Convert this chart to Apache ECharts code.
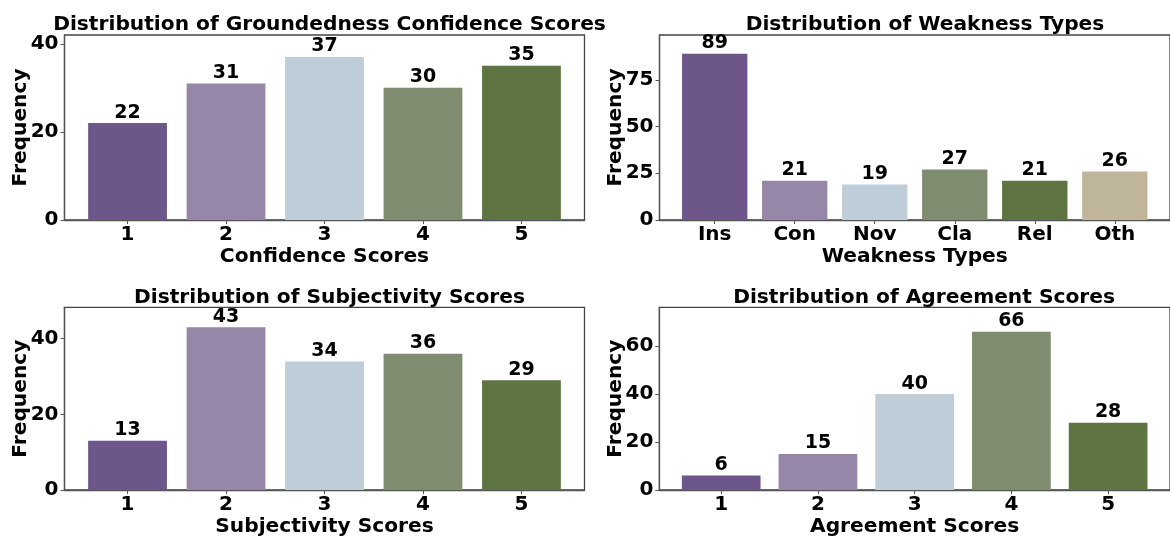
<!DOCTYPE html>
<html>
<head>
<meta charset="utf-8">
<script src="https://cdn.jsdelivr.net/npm/echarts@6/dist/echarts.min.js"></script>
<style>
html,body{margin:0;padding:0;background:#fff;}
#c{width:1170px;height:538px;}
</style>
</head>
<body>
<div id="c"></div>
<script>
// ---- data ----
const confCats = ['1','2','3','4','5'];
const confVals = [22,31,37,30,35];
const weakCats = ['Ins','Con','Nov','Cla','Rel','Oth'];
const weakVals = [89,21,19,27,21,26];
const subjCats = ['1','2','3','4','5'];
const subjVals = [13,43,34,36,29];
const agreeCats = ['1','2','3','4','5'];
const agreeVals = [6,15,40,66,28];
const confTicks = [0,20,40];
const weakTicks = [0,25,50,75];
const subjTicks = [0,20,40];
const agreeTicks = [0,20,40,60];
const titles = ['Distribution of Groundedness Confidence Scores','Distribution of Weakness Types','Distribution of Subjectivity Scores','Distribution of Agreement Scores'];
const xNames = ['Confidence Scores','Weakness Types','Subjectivity Scores','Agreement Scores'];
const yMax = [42, 99, 48.3, 76.2];

const palette = ['#6C568A','#9686A7','#BFCDD8','#7F8C6F','#5F7443','#BFB59B'];
const FONT = 'DejaVu Sans';

const panels = [
  {cats: confCats, vals: confVals, ticks: confTicks, grid:{left:64.5, top:35, width:520, height:185}},
  {cats: weakCats, vals: weakVals, ticks: weakTicks, grid:{left:659.5, top:35, width:521, height:185}},
  {cats: subjCats, vals: subjVals, ticks: subjTicks, grid:{left:64.5, top:307.3, width:520, height:184.4}},
  {cats: agreeCats, vals: agreeVals, ticks: agreeTicks, grid:{left:659.3, top:307.3, width:519.5, height:184.4}}
];

const option = {animation:false, backgroundColor:'#fff', title:[], grid:[], xAxis:[], yAxis:[], series:[]};
const axisLine = {show:true, onZero:false, lineStyle:{color:'#555', width:1.3}};
const tickStyle = {show:true, length:4, lineStyle:{color:'#555', width:1}};

panels.forEach((p, i) => {
  const n = p.cats.length;
  const span = (n - 1) + 0.8;
  const xmin = -0.4 - span * 0.05;
  const xmax = (n - 1) + 0.4 + span * 0.05;
  const unitPx = p.grid.width / (xmax - xmin);
  option.grid.push({left:p.grid.left, top:p.grid.top, width:p.grid.width, height:p.grid.height,
    show:true, borderColor:'#444', borderWidth:1.3, backgroundColor:'transparent', containLabel:false});
  option.title.push({text:titles[i], left:p.grid.left + p.grid.width/2, top:p.grid.top - 25, textAlign:'center',
    textStyle:{fontFamily:FONT, fontWeight:'bold', fontSize:20.2, color:'#000'}});
  const idx = p.cats.map((c, k) => k);
  option.xAxis.push({type:'value', gridIndex:i, min:xmin, max:xmax,
    name:xNames[i], nameLocation:'middle', nameGap:27, nameMoveOverlap:false,
    nameTextStyle:{fontFamily:FONT, fontWeight:'bold', fontSize:20.2, color:'#000'},
    axisLine:axisLine, splitLine:{show:false},
    axisTick:Object.assign({customValues:idx}, tickStyle),
    axisLabel:{customValues:idx, margin:5, fontFamily:FONT, fontWeight:'bold', fontSize:20, color:'#000',
      formatter:(v)=>p.cats[Math.round(v)]}});
  option.yAxis.push({type:'value', gridIndex:i, min:0, max:yMax[i],
    name:'Frequency', nameLocation:'middle', nameGap:34, nameMoveOverlap:false,
    nameTextStyle:{fontFamily:FONT, fontWeight:'bold', fontSize:20.2, color:'#000'},
    axisLine:axisLine, splitLine:{show:false},
    axisTick:Object.assign({customValues:p.ticks}, tickStyle),
    axisLabel:{customValues:p.ticks, margin:6, fontFamily:FONT, fontWeight:'bold', fontSize:20, color:'#000'}});
  option.series.push({type:'bar', xAxisIndex:i, yAxisIndex:i, barWidth:unitPx*0.8,
    data:p.vals.map((v,k)=>({value:[k, v], itemStyle:{color:palette[k]}})),
    label:{show:true, position:'top', distance:1, fontFamily:FONT, fontWeight:'bold', fontSize:19, color:'#000',
      formatter:(d)=>d.value[1]}});
});

const chart = echarts.init(document.getElementById('c'), null, {renderer:'canvas'});
chart.setOption(option);
</script>
</body>
</html>
